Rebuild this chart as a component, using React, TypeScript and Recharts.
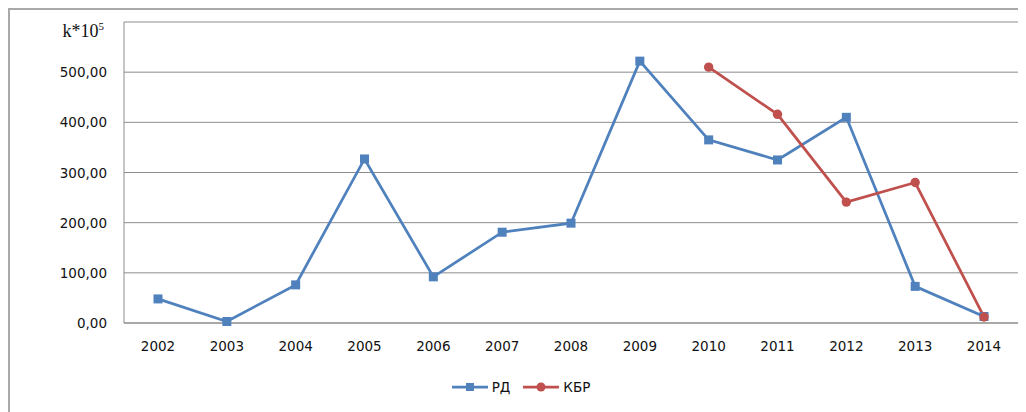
import { LineChart, Line, XAxis, YAxis, CartesianGrid, Legend } from 'recharts';

const years = ['2002', '2003', '2004', '2005', '2006', '2007', '2008', '2009', '2010', '2011', '2012', '2013', '2014'];
const rdValues = [48, 3, 76, 327, 92, 181, 199, 522, 365, 325, 410, 73, 13];
const kbrValues = [null, null, null, null, null, null, null, null, 510, 416, 241, 280, 12];
const yTicks = [0, 100, 200, 300, 400, 500, 600];

const BLUE = '#4f81bd';
const RED = '#c0504d';
const GRID = '#8c8c8c';
const FONT = '"DejaVu Sans", sans-serif';

const data = years.map((year, i) => ({ year, rd: rdValues[i], kbr: kbrValues[i] }));

const formatValue = (v: number) => v.toFixed(2).replace('.', ',');

function YTick(props: any) {
  const { x, y, payload } = props;
  if (payload.value === 600) {
    // top label carries the unit instead of a number
    return (
      <text x={x - 3} y={y + 15} textAnchor="end" fontFamily='"Liberation Serif", serif' fontSize={18} fill="#111">
        k*10<tspan fontSize={11} dy={-7}>5</tspan>
      </text>
    );
  }
  return (
    <text x={x} y={y} dy={5} textAnchor="end" fontFamily={FONT} fontSize={13.5} fill="#111">
      {formatValue(payload.value)}
    </text>
  );
}

function LegendContent() {
  const items = [
    { name: 'РД', color: BLUE, shape: 'square' },
    { name: 'КБР', color: RED, shape: 'circle' },
  ];
  return (
    <div style={{ display: 'flex', justifyContent: 'center', gap: 13, fontFamily: FONT, fontSize: 13.5, color: '#111', lineHeight: '20px', paddingLeft: 16 }}>
      {items.map((it) => (
        <div key={it.name} style={{ display: 'flex', alignItems: 'center', gap: 4 }}>
          <svg width={36} height={12}>
            <line x1={0} y1={6} x2={36} y2={6} stroke={it.color} strokeWidth={2.75} />
            {it.shape === 'square' ? (
              <rect x={14} y={2} width={8} height={8} fill={it.color} />
            ) : (
              <circle cx={18} cy={6} r={4.5} fill={it.color} />
            )}
          </svg>
          <span>{it.name}</span>
        </div>
      ))}
    </div>
  );
}

function SquareDot(props: any) {
  const { cx, cy } = props;
  if (cx == null || cy == null) return null;
  return <rect x={cx - 4.5} y={cy - 4.5} width={9} height={9} fill={BLUE} />;
}

function CircleDot(props: any) {
  const { cx, cy } = props;
  if (cx == null || cy == null || props.value == null) return null;
  return <circle cx={cx} cy={cy} r={4.7} fill={RED} />;
}

export default function App() {
  return (
    <div style={{ position: 'relative', width: 1018, height: 404, background: '#fff' }}>
      <div style={{ position: 'absolute', left: 0, top: 0, width: 1030, height: 2, background: '#a9a9a9' }} />
      <div style={{ position: 'absolute', left: 0, top: 0, width: 2, height: 410, background: '#a9a9a9' }} />
      <LineChart width={1018} height={404} data={data} margin={{ top: 14, right: 8, left: 0, bottom: 15 }}>
        <CartesianGrid vertical={false} stroke={GRID} strokeWidth={1} />
        <XAxis
          dataKey="year"
          height={54}
          padding={{ left: 34, right: 34 }}
          tickLine={false}
          tickMargin={12}
          stroke={GRID}
          tick={{ fontFamily: FONT, fontSize: 13.5, fill: '#111' }}
        />
        <YAxis
          width={116}
          domain={[0, 600]}
          ticks={yTicks}
          interval={0}
          tickLine={false}
          tickMargin={11}
          stroke={GRID}
          tick={<YTick />}
        />
        <Legend verticalAlign="bottom" height={20} content={<LegendContent />} />
        <Line
          dataKey="rd"
          name="РД"
          stroke={BLUE}
          strokeWidth={2.75}
          dot={<SquareDot />}
          activeDot={false}
          isAnimationActive={false}
        />
        <Line
          dataKey="kbr"
          name="КБР"
          stroke={RED}
          strokeWidth={2.75}
          dot={<CircleDot />}
          activeDot={false}
          isAnimationActive={false}
        />
      </LineChart>
    </div>
  );
}
